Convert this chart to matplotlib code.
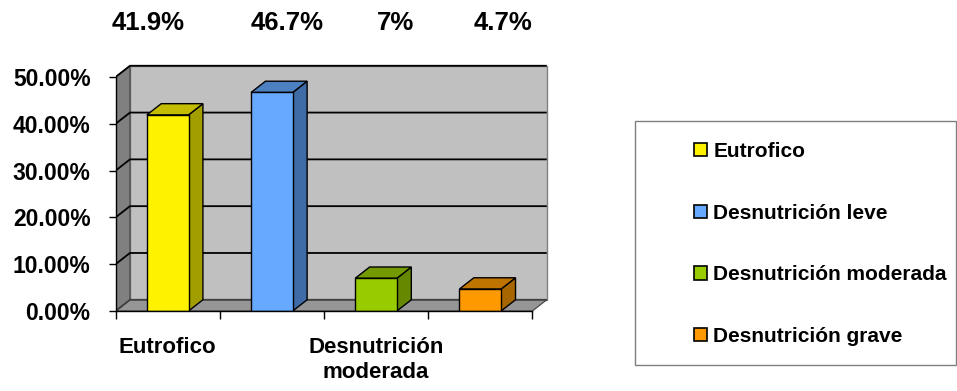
import matplotlib
matplotlib.use("Agg")
import matplotlib.pyplot as plt
import matplotlib.transforms as mtransforms
from matplotlib.patches import Polygon, Rectangle, Patch
from matplotlib.ticker import FuncFormatter

# ---- data -------------------------------------------------------------
categories = ["Eutrofico", "Desnutrición leve", "Desnutrición moderada", "Desnutrición grave"]
values = [41.9, 46.7, 7.0, 4.7]
y_ticks = [0, 10, 20, 30, 40, 50]

# ---- colours ----------------------------------------------------------
front_colors = ["#FFF200", "#66AAFF", "#99CC00", "#FF9900"]
top_colors = ["#C4BC00", "#4D80C0", "#739A00", "#C07400"]
side_colors = ["#A39E00", "#3F6CA6", "#668800", "#A86600"]
wall_color = "#C0C0C0"
side_wall_color = "#808080"
floor_color = "#969696"

plt.rcParams["font.family"] = ["Liberation Sans", "DejaVu Sans"]
plt.rcParams["font.weight"] = "bold"

W, H = 957, 391
fig = plt.figure(figsize=(W / 100, H / 100), dpi=100)

# front plane of the 3-D box (pixel layout)
xlim = (-0.5, 3.7)
ylim = (0, 53)
x0px, px_per_cat = 115.6, 104.2
y0px, px_per_pct = 311, 4.68
ax = fig.add_axes([x0px / W, (H - y0px) / H,
                   (xlim[1] - xlim[0]) * px_per_cat / W,
                   (ylim[1] - ylim[0]) * px_per_pct / H])
ax.set_xlim(*xlim)
ax.set_ylim(*ylim)
ax.patch.set_visible(False)

# depth of the box (in data units)
dx, dy = 0.138, 2.4
n = len(categories)
left, right = -0.5, n - 0.5
ymax = y_ticks[-1]

# back wall
ax.add_patch(Rectangle((left + dx, dy), n, ymax, facecolor=wall_color,
                       edgecolor="#808080", lw=1, zorder=0))
# floor
ax.add_patch(Polygon([(left, 0), (right, 0), (right + dx, dy), (left + dx, dy)],
                     closed=True, facecolor=floor_color, edgecolor="#404040",
                     lw=0.8, zorder=1))
# side wall
ax.add_patch(Polygon([(left, 0), (left + dx, dy), (left + dx, ymax + dy), (left, ymax)],
                     closed=True, facecolor=side_wall_color, edgecolor="#404040",
                     lw=0.8, zorder=1))
# gridlines on side and back walls
for v in y_ticks:
    col = "#404040" if v == 0 else "black"
    ax.plot([left, left + dx, right + dx], [v, v + dy, v + dy],
            color=col, lw=1.3, zorder=2, solid_capstyle="butt")

# 3-D bars
bw = 0.4
for i, v in enumerate(values):
    xl, xr = i - bw / 2, i + bw / 2
    ax.add_patch(Polygon([(xr, 0), (xr + dx, dy), (xr + dx, v + dy), (xr, v)],
                         closed=True, facecolor=side_colors[i], edgecolor="black",
                         lw=1, zorder=3))
    ax.add_patch(Polygon([(xl, v), (xr, v), (xr + dx, v + dy), (xl + dx, v + dy)],
                         closed=True, facecolor=top_colors[i], edgecolor="black",
                         lw=1, zorder=3))
    ax.add_patch(Rectangle((xl, 0), bw, v, facecolor=front_colors[i],
                           edgecolor="black", lw=1, zorder=4))

# axes spines
for s in ("top", "right"):
    ax.spines[s].set_visible(False)
ax.spines["left"].set_position(("data", left))
ax.spines["left"].set_bounds(0, ymax)
ax.spines["bottom"].set_position(("data", 0))
ax.spines["bottom"].set_bounds(left, right)
for s in ("left", "bottom"):
    ax.spines[s].set_linewidth(1)
    ax.spines[s].set_zorder(5)

# y axis
ax.set_yticks(y_ticks)
ax.yaxis.set_major_formatter(FuncFormatter(lambda v, _: f"{v:.2f}%"))
ax.tick_params(axis="y", length=5, width=1, direction="out", pad=13,
               labelsize=16.5)
for t in ax.get_yticklabels():
    t.set_fontweight("bold")

# x axis: boundary ticks, every other category labelled
ax.set_xticks([i - 0.5 for i in range(n + 1)])
ax.set_xticklabels([])
ax.set_xticks(range(n), minor=True)
ax.set_xticklabels([c.replace(" ", "\n") if i % 2 == 0 else ""
                    for i, c in enumerate(categories)], minor=True,
                   linespacing=1.25, fontweight="bold")
ax.tick_params(axis="x", which="major", length=5.5, width=1, direction="out")
ax.tick_params(axis="x", which="minor", length=0, pad=19, labelsize=16)

# value labels above the chart
label_x = [-0.19, 1.15, 2.19, 3.22]
blend = mtransforms.blended_transform_factory(ax.transData, fig.transFigure)
for xv, v in zip(label_x, values):
    fig.text(xv, 1 - 23 / H, f"{v:g}%", transform=blend, ha="center",
             va="center", fontsize=18.5, fontweight="bold")

# legend with its own box
fig.patches.append(Rectangle((635 / W, 1 - 365 / H), (956 - 635) / W, (365 - 121) / H,
                             transform=fig.transFigure, fill=False,
                             edgecolor="#7F7F7F", lw=1))
handles = [Patch(facecolor=c, edgecolor="black", lw=1.2) for c in front_colors]
fig.legend(handles, categories, loc="center left",
           bbox_to_anchor=(694 / W, 1 - 244 / H), frameon=False, borderpad=0,
           borderaxespad=0, handlelength=0.62, handleheight=0.62,
           handletextpad=0.3, labelspacing=2.05,
           prop={"size": 15, "weight": "bold"})

fig.savefig("out.png", dpi=100)
